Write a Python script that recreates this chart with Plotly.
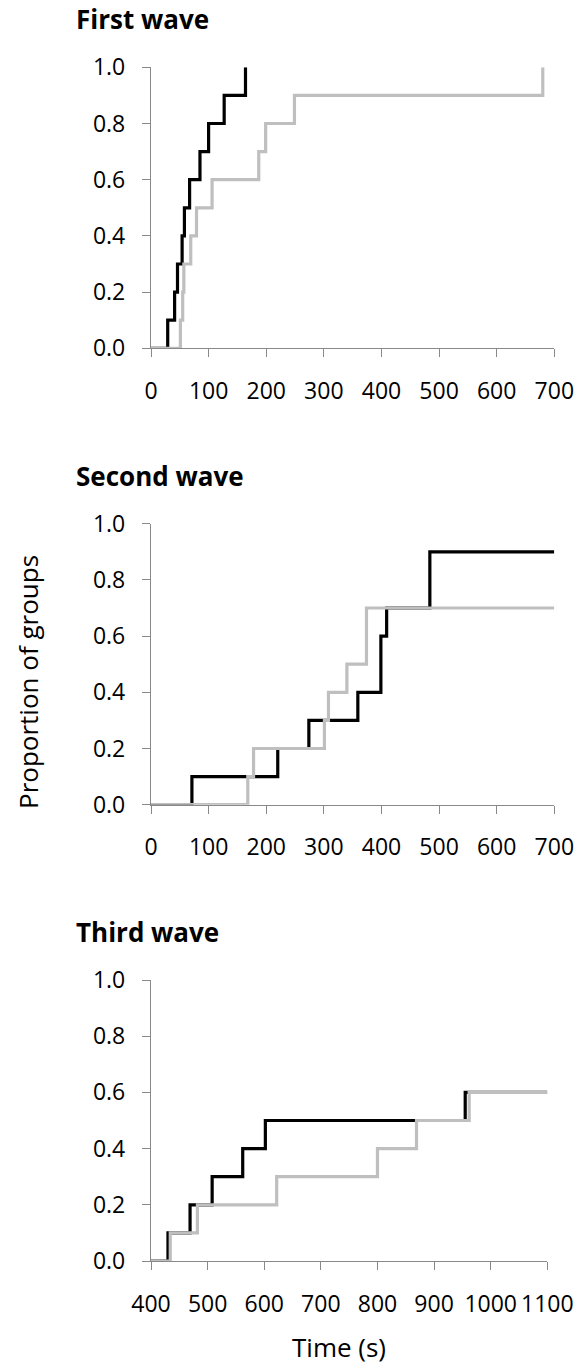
import plotly.graph_objects as go

W, H = 580, 1368

# Times (s) at which the cumulative proportion of groups steps up, and the level reached
wave1_black_t = [29, 41, 46, 54, 58, 67, 85, 100, 127, 164]
wave1_black_p = [0.1, 0.2, 0.3, 0.4, 0.5, 0.6, 0.7, 0.8, 0.9, 1.0]
wave1_grey_t = [51, 55, 57, 69, 79, 106, 187, 199, 249, 680]
wave1_grey_p = [0.1, 0.2, 0.3, 0.4, 0.5, 0.6, 0.7, 0.8, 0.9, 1.0]

wave2_black_t = [71, 220, 274, 359, 399, 409, 484]
wave2_black_p = [0.1, 0.2, 0.3, 0.4, 0.6, 0.7, 0.9]
wave2_grey_t = [168, 178, 301, 308, 340, 374]
wave2_grey_p = [0.1, 0.2, 0.3, 0.4, 0.5, 0.7]

wave3_black_t = [430, 469, 508, 562, 602, 955]
wave3_black_p = [0.1, 0.2, 0.3, 0.4, 0.5, 0.6]
wave3_grey_t = [434, 482, 622, 800, 869, 962]
wave3_grey_p = [0.1, 0.2, 0.3, 0.4, 0.5, 0.6]

panel_titles = ["First wave", "Second wave", "Third wave"]
x_ranges = [(0, 700), (0, 700), (400, 1100)]
x_ends = [None, 700, 1100]          # follow-up end; None = curve stops at last event
y_ticks = [0.0, 0.2, 0.4, 0.6, 0.8, 1.0]

BLACK = "#000000"
GREY = "#bfbfbf"
AXIS = "#898989"
FONT = "Open Sans"
TICK_SIZE = 23


def px_x(p):
    return p / W


def px_y(p):
    return 1 - p / H


# plot-area boxes in pixels: (left, right, top, bottom)
boxes = [(151, 554.3, 67.3, 348.3),
         (151, 554.3, 523.7, 804.7),
         (151, 547.3, 980.0, 1261.0)]


def step_xy(t, p, x0, x_end):
    xs = [x0] + list(t)
    ys = [0.0] + list(p)
    if x_end is not None:
        xs.append(x_end)
        ys.append(ys[-1])
    return xs, ys


series = [
    (wave1_black_t, wave1_black_p, wave1_grey_t, wave1_grey_p),
    (wave2_black_t, wave2_black_p, wave2_grey_t, wave2_grey_p),
    (wave3_black_t, wave3_black_p, wave3_grey_t, wave3_grey_p),
]

fig = go.Figure()
layout = {}
annotations = []

for i, (bt, bp, gt, gp) in enumerate(series):
    n = "" if i == 0 else str(i + 1)
    x0, x1 = x_ranges[i]
    for t, p, col in ((bt, bp, BLACK), (gt, gp, GREY)):
        xs, ys = step_xy(t, p, x0, x_ends[i])
        fig.add_trace(go.Scatter(
            x=xs, y=ys, mode="lines", line=dict(color=col, width=3.2, shape="hv"),
            xaxis="x" + n, yaxis="y" + n, showlegend=False, hoverinfo="skip",
        ))
    l, r, t_, b = boxes[i]
    layout["xaxis" + n] = dict(
        domain=[px_x(l), px_x(r)], anchor="y" + n, range=[x0, x1], dtick=100,
        tick0=x0, showline=True, linecolor=AXIS, linewidth=1.3, ticks="outside",
        ticklen=8, tickwidth=1.3, tickcolor=AXIS, showgrid=False, zeroline=False,
        tickfont=dict(family=FONT, size=TICK_SIZE, color="#000000"),
        ticklabelstandoff=14, automargin=False,
    )
    layout["yaxis" + n] = dict(
        domain=[px_y(b), px_y(t_)], anchor="x" + n, range=[0, 1],
        tickvals=y_ticks, tickformat=".1f", showline=True, linecolor=AXIS,
        linewidth=1.3, ticks="outside", ticklen=8, tickwidth=1.3, tickcolor=AXIS,
        showgrid=False, zeroline=False,
        tickfont=dict(family=FONT, size=TICK_SIZE, color="#000000"),
        ticklabelstandoff=12, automargin=False,
    )
    annotations.append(dict(
        text="<b>" + panel_titles[i] + "</b>", xref="paper", yref="paper",
        x=px_x(74), y=px_y(t_ - 48), xanchor="left", yanchor="middle",
        showarrow=False, font=dict(family=FONT, size=26, color="#000000"),
    ))

annotations.append(dict(
    text="Proportion of groups", xref="paper", yref="paper",
    x=px_x(28), y=px_y(682), xanchor="center", yanchor="middle", textangle=-90,
    showarrow=False, font=dict(family=FONT, size=26, color="#000000"),
))
annotations.append(dict(
    text="Time (s)", xref="paper", yref="paper",
    x=px_x(339), y=px_y(1347), xanchor="center", yanchor="middle",
    showarrow=False, font=dict(family=FONT, size=26, color="#000000"),
))

fig.update_layout(
    width=W, height=H, margin=dict(l=0, r=0, t=0, b=0, autoexpand=False),
    paper_bgcolor="#ffffff", plot_bgcolor="#ffffff",
    annotations=annotations, **layout,
)

fig.write_html("out.html")
